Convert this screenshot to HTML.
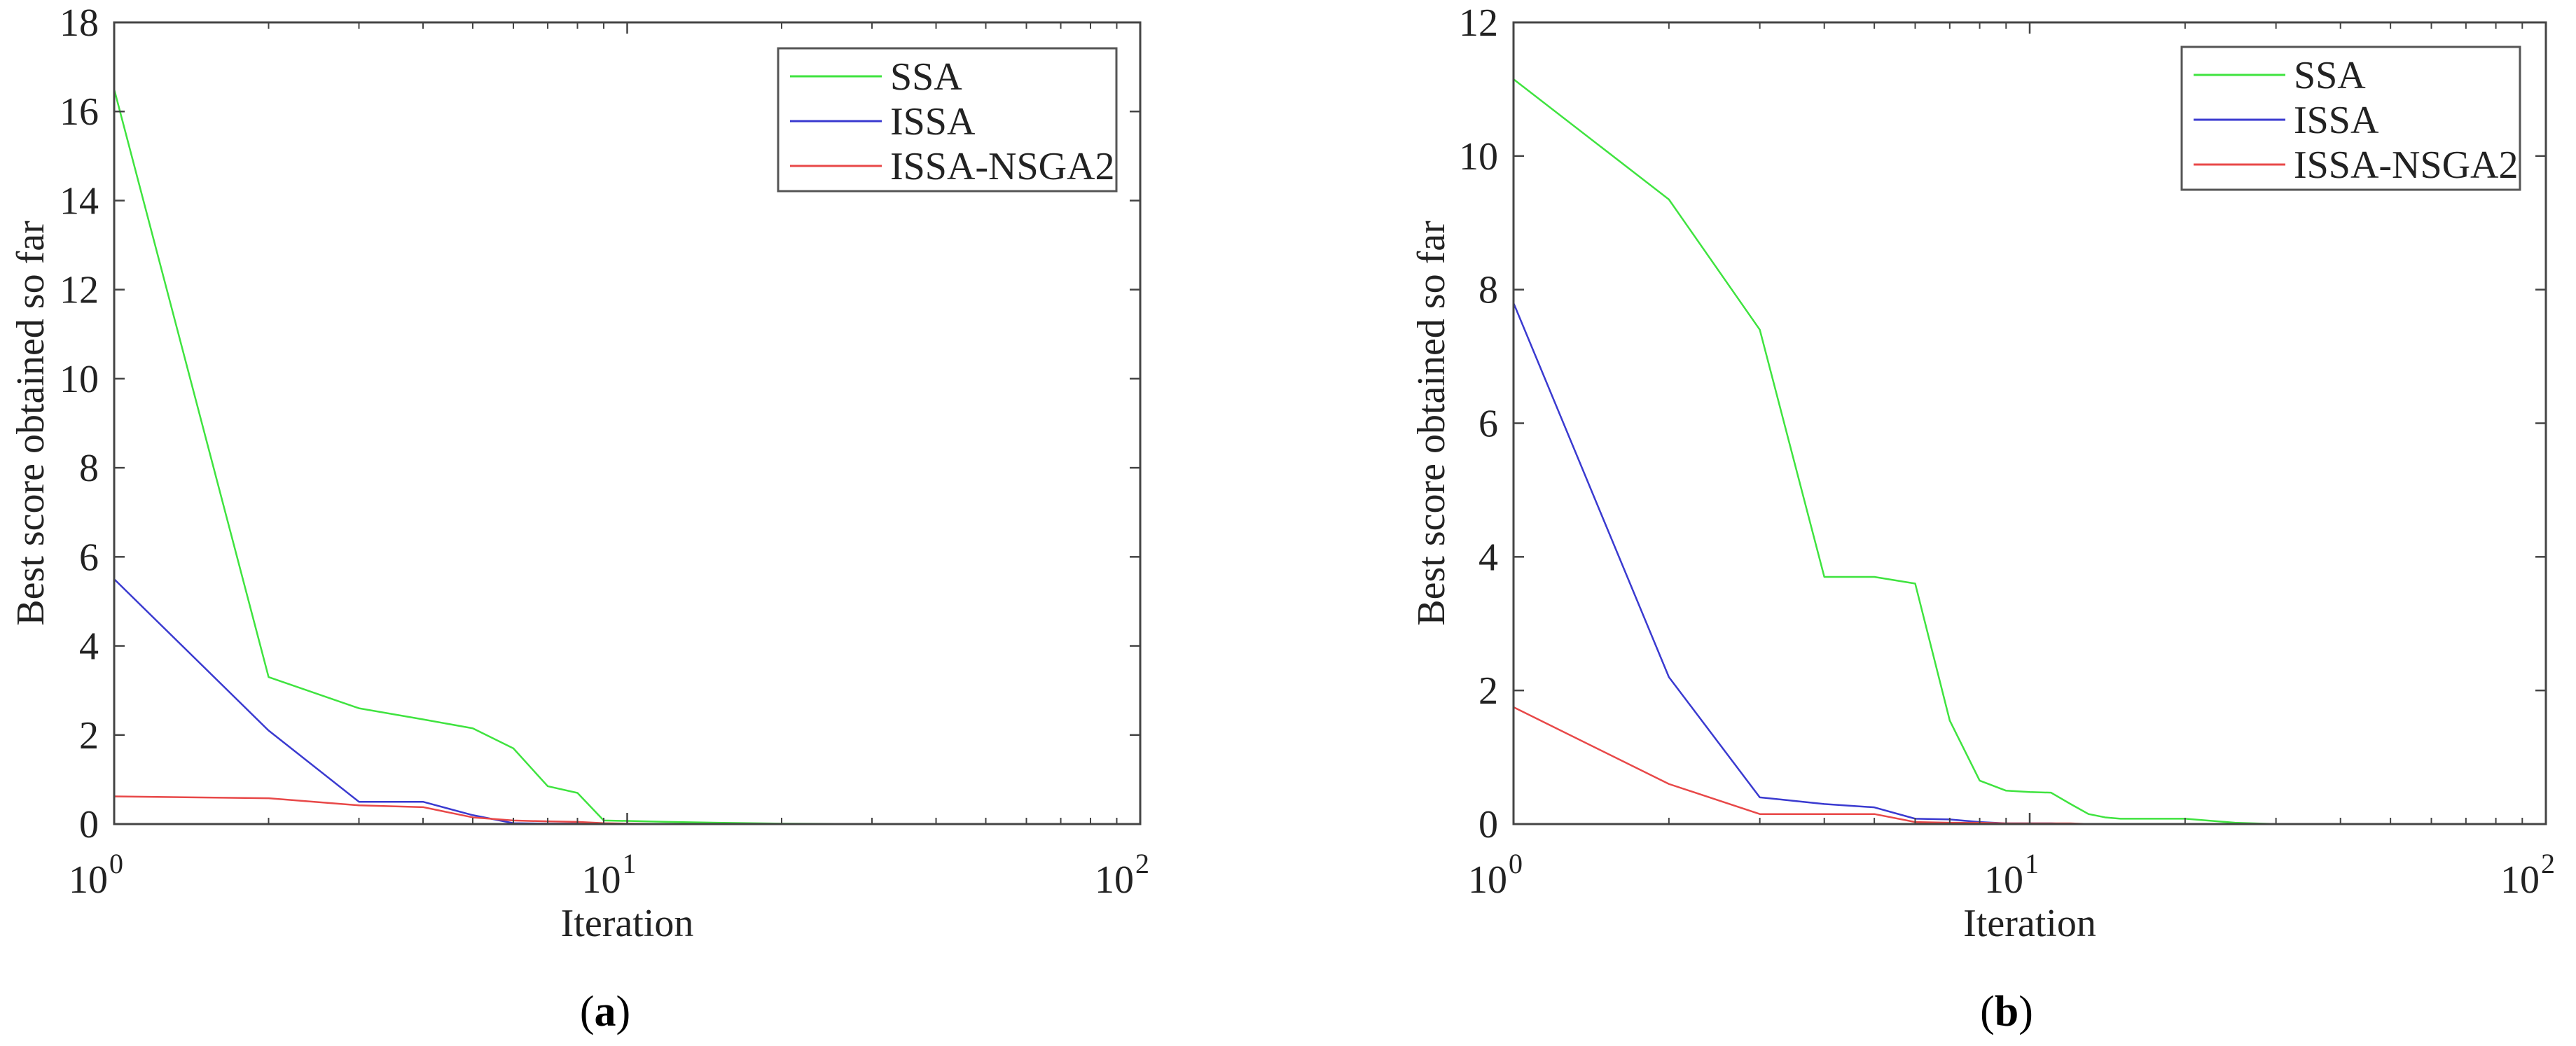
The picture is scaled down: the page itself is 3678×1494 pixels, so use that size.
<!DOCTYPE html>
<html><head><meta charset="utf-8"><style>
html,body{margin:0;padding:0;background:#fff;}
svg{display:block;font-family:"Liberation Serif",serif;}
</style></head><body>
<svg id="fig" width="3678" height="1494" viewBox="0 0 3678 1494" xmlns="http://www.w3.org/2000/svg"></svg>
<script>
// ---- Data: panel (a) ----
const itersA = [1,2,3,4,5,6,7,8,9,10,12,15,20,30,50,100];
const ssaA   = [16.5,3.3,2.6,2.35,2.15,1.7,0.85,0.7,0.08,0.07,0.05,0.03,0.01,0,0,0];
const issaA  = [5.5,2.1,0.5,0.5,0.2,0.02,0.01,0.01,0,0,0,0,0,0,0,0];
const nsgaA  = [0.62,0.58,0.42,0.38,0.15,0.08,0.06,0.05,0.02,0.01,0,0,0,0,0,0];
const yTicksA = [0,2,4,6,8,10,12,14,16,18];
// ---- Data: panel (b) ----
const itersB = [1,2,3,4,5,6,7,8,9,10,11,12,13,14,15,20,25,30,50,100];
const ssaB   = [11.15,9.35,7.4,3.7,3.7,3.6,1.55,0.65,0.5,0.48,0.47,0.3,0.15,0.1,0.08,0.08,0.02,0,0,0];
const issaB  = [7.8,2.2,0.4,0.3,0.25,0.08,0.07,0.03,0.01,0.01,0.01,0,0,0,0,0,0,0,0,0];
const nsgaB  = [1.75,0.6,0.15,0.15,0.15,0.03,0.02,0.02,0.01,0.01,0.01,0.01,0,0,0,0,0,0,0,0];
const yTicksB = [0,2,4,6,8,10,12];
const xTickExps = [0,1,2];
const seriesNames = ["SSA","ISSA","ISSA-NSGA2"];
const seriesColors = ["#3fe33f","#3a3ad0","#e84848"];

const NS="http://www.w3.org/2000/svg";
const svg=document.getElementById('fig');
function mk(tag,attrs,parent){const e=document.createElementNS(NS,tag);for(const k in attrs)e.setAttribute(k,attrs[k]);(parent||svg).appendChild(e);return e;}

function panel(cfg){
  const g=mk('g',{});
  
  
  const L=cfg.x0,R=cfg.x1,T=cfg.y0,B=cfg.y1,ymax=cfg.yTicks[cfg.yTicks.length-1];
  const sx=v=>L+(Math.log10(v)/2)*(R-L);
  const sy=v=>B-(v/ymax)*(B-T);
  // series
  cfg.series.forEach((s,i)=>{
    const p=mk('polyline',{points:cfg.iters.map((x,j)=>sx(x)+','+sy(s[j])).join(' '),fill:'none',stroke:seriesColors[i],'stroke-width':2.5,'stroke-linejoin':'round'},g);
    
    
  });
  // axes box
  const box=mk('rect',{x:L,y:T,width:R-L,height:B-T,fill:'none',stroke:'#444','stroke-width':3},g);
  
  
  // y ticks
  cfg.yTicks.forEach(v=>{
    const y=sy(v);
    mk('line',{x1:L,y1:y,x2:L+15,y2:y,stroke:'#444','stroke-width':2.5},g);
    mk('line',{x1:R,y1:y,x2:R-15,y2:y,stroke:'#444','stroke-width':2.5},g);
    const t=mk('text',{x:L-22,y:y+19,'font-size':56,'text-anchor':'end',fill:'#222'},g);
    t.textContent=v;
    
    
  });
  // x ticks (log)
  for(let d=0;d<2;d++){for(let m=2;m<=9;m++){const x=sx(m*Math.pow(10,d));
    mk('line',{x1:x,y1:B,x2:x,y2:B-9,stroke:'#444','stroke-width':2},g);
    mk('line',{x1:x,y1:T,x2:x,y2:T+9,stroke:'#444','stroke-width':2},g);}}
  xTickExps.forEach(e=>{
    const x=sx(Math.pow(10,e));
    mk('line',{x1:x,y1:B,x2:x,y2:B-16,stroke:'#444','stroke-width':2.5},g);
    mk('line',{x1:x,y1:T,x2:x,y2:T+16,stroke:'#444','stroke-width':2.5},g);
    const t=mk('text',{x:x-26,y:B+98,'font-size':56,'text-anchor':'middle',fill:'#222'},g);
    t.textContent='10';
    
    
    const s=mk('tspan',{dx:2,dy:-28,'font-size':40},t);s.textContent=e;
  });
  const xl=mk('text',{x:(L+R)/2,y:B+160,'font-size':56,'text-anchor':'middle',fill:'#222'},g);
  xl.textContent='Iteration';
  
  
  const yl=mk('text',{x:0,y:0,'font-size':56,'text-anchor':'middle',fill:'#222',transform:`translate(${cfg.ylabX},${(T+B)/2}) rotate(-90)`},g);
  yl.textContent='Best score obtained so far';
  
  
  // legend
  const lg=mk('g',{},g);
  
  
  mk('rect',{x:cfg.lx0,y:cfg.ly0,width:cfg.lx1-cfg.lx0,height:cfg.ly1-cfg.ly0,fill:'#fff',stroke:'#555','stroke-width':3},lg);
  seriesNames.forEach((n,i)=>{
    const y=cfg.ly0+40+i*64;
    mk('line',{x1:cfg.lx0+17,y1:y,x2:cfg.lx0+148,y2:y,stroke:seriesColors[i],'stroke-width':3},lg);
    const t=mk('text',{x:cfg.lx0+160,y:y+19,'font-size':56,fill:'#222'},lg);
    t.textContent=n;
    
    
  });
  const cap=mk('text',{x:cfg.capX,y:1465,'font-size':62,'text-anchor':'middle',fill:'#000','font-family':'"Liberation Serif",serif'},g);
  
  
  cap.appendChild(document.createTextNode('('));
  const b=mk('tspan',{'font-weight':'bold'},cap);b.textContent=cfg.letter;
  cap.appendChild(document.createTextNode(')'));
}
panel({name:'chart-a',x0:163,x1:1628,y0:32,y1:1177,iters:itersA,series:[ssaA,issaA,nsgaA],yTicks:yTicksA,ylabX:62,lx0:1111,lx1:1594,ly0:69,ly1:273,capX:864,letter:'a'});
panel({name:'chart-b',x0:2161,x1:3635,y0:32,y1:1177,iters:itersB,series:[ssaB,issaB,nsgaB],yTicks:yTicksB,ylabX:2062,lx0:3115,lx1:3598,ly0:67,ly1:271,capX:2865,letter:'b'});
</script>
</body></html>
